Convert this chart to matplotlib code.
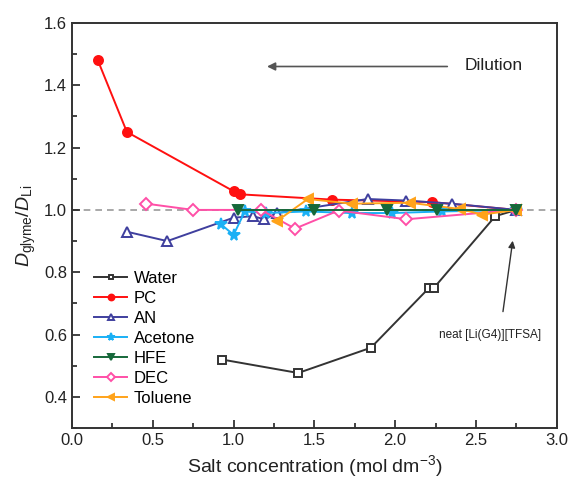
import matplotlib
matplotlib.use("Agg")
import matplotlib.pyplot as plt
from matplotlib.ticker import MultipleLocator

plt.rcParams['font.family'] = ['Liberation Sans', 'DejaVu Sans']
plt.rcParams['mathtext.fontset'] = 'custom'
plt.rcParams['mathtext.rm'] = 'Liberation Sans'
plt.rcParams['mathtext.it'] = 'Liberation Sans:italic'

water_x = [0.93, 1.40, 1.85, 2.21, 2.24, 2.62, 2.75]
water_y = [0.52, 0.477, 0.558, 0.75, 0.75, 0.98, 1.0]

pc_x = [0.16, 0.34, 1.00, 1.04, 1.61, 2.23, 2.75]
pc_y = [1.48, 1.25, 1.06, 1.05, 1.033, 1.025, 1.0]

an_x = [0.34, 0.59, 1.00, 1.12, 1.19, 1.27, 1.83, 2.07, 2.35, 2.75]
an_y = [0.93, 0.90, 0.975, 0.98, 0.97, 0.99, 1.035, 1.03, 1.02, 1.0]

acetone_x = [0.92, 1.00, 1.07, 1.20, 1.45, 1.73, 1.98, 2.29, 2.75]
acetone_y = [0.955, 0.92, 0.995, 0.99, 0.995, 0.99, 0.99, 0.995, 1.0]

hfe_x = [1.03, 1.50, 1.95, 2.26, 2.75]
hfe_y = [1.0, 1.0, 1.0, 1.0, 1.0]

dec_x = [0.46, 0.75, 1.17, 1.38, 1.65, 2.07, 2.75]
dec_y = [1.02, 1.0, 1.0, 0.94, 0.998, 0.97, 1.0]

tol_x = [1.27, 1.46, 1.73, 2.09, 2.40, 2.54, 2.75]
tol_y = [0.965, 1.035, 1.02, 1.023, 1.003, 0.985, 1.0]

series = [
    ("Water", water_x, water_y, 's', '#333333', 'white', 5.5, 3),
    ("PC", pc_x, pc_y, 'o', '#ff1010', '#ff1010', 6.5, 3),
    ("AN", an_x, an_y, '^', '#3f3f9e', 'white', 7, 3),
    ("Acetone", acetone_x, acetone_y, '*', '#1ab0f5', '#1ab0f5', 8.5, 3),
    ("HFE", hfe_x, hfe_y, 'v', '#16683a', '#16683a', 7, 4),
    ("DEC", dec_x, dec_y, 'D', '#ff4fa7', 'white', 6, 3),
    ("Toluene", tol_x, tol_y, '<', '#ffa31a', '#ffa31a', 7, 3),
]

fig = plt.figure(figsize=(5.71, 4.86), dpi=100)
ax = fig.add_axes([0.126, 0.119, 0.849, 0.834])

ax.axhline(1.0, color='#999999', lw=1.2, ls=(0, (4, 3)), zorder=1)

for name, xs, ys, mk, col, fc, ms, zo in series:
    ax.plot(xs, ys, color=col, lw=1.4, marker=mk, markersize=ms,
            markerfacecolor=fc, markeredgecolor=col, markeredgewidth=1.4,
            label=name, zorder=zo)

ax.set_xlim(0, 3.0)
ax.set_ylim(0.3, 1.6)
ax.xaxis.set_major_locator(MultipleLocator(0.5))
ax.xaxis.set_minor_locator(MultipleLocator(0.25))
ax.yaxis.set_minor_locator(MultipleLocator(0.1))
ax.set_yticks([0.4, 0.6, 0.8, 1.0, 1.2, 1.4, 1.6])
ax.tick_params(which='both', direction='in', top=False, right=False,
               labelsize=12, colors='#222222', width=1.2)
ax.tick_params(which='major', length=6)
ax.tick_params(which='minor', length=3.5)
for s in ax.spines.values():
    s.set_linewidth(1.4)
    s.set_color('#333333')

ax.set_xlabel("Salt concentration (mol dm$^{-3}$)", fontsize=14, color='#222222')
ax.set_ylabel("$\\mathit{D}_{\\mathrm{glyme}}/\\mathit{D}_{\\mathrm{Li}}$", fontsize=14,
              color='#222222', labelpad=4)

ax.annotate("", xy=(1.19, 1.46), xytext=(2.34, 1.46),
            arrowprops=dict(arrowstyle='-|>', color='#555555', lw=1.2,
                            mutation_scale=12))
ax.text(2.43, 1.462, "Dilution", fontsize=12.5, va='center', ha='left', color='#222222')

ax.annotate("", xy=(2.73, 0.91), xytext=(2.665, 0.665),
            arrowprops=dict(arrowstyle='-|>', color='#333333', lw=1.0,
                            mutation_scale=10))
ax.text(2.59, 0.60, "neat [Li(G4)][TFSA]", fontsize=8.5, ha='center', va='center',
        color='#222222')

leg = ax.legend(loc='lower left', bbox_to_anchor=(0.025, 0.03), frameon=False,
                fontsize=12, handlelength=2.0, handletextpad=0.4,
                labelspacing=0.3, borderaxespad=0.2, markerscale=0.65)

fig.savefig("out.png", dpi=100)
